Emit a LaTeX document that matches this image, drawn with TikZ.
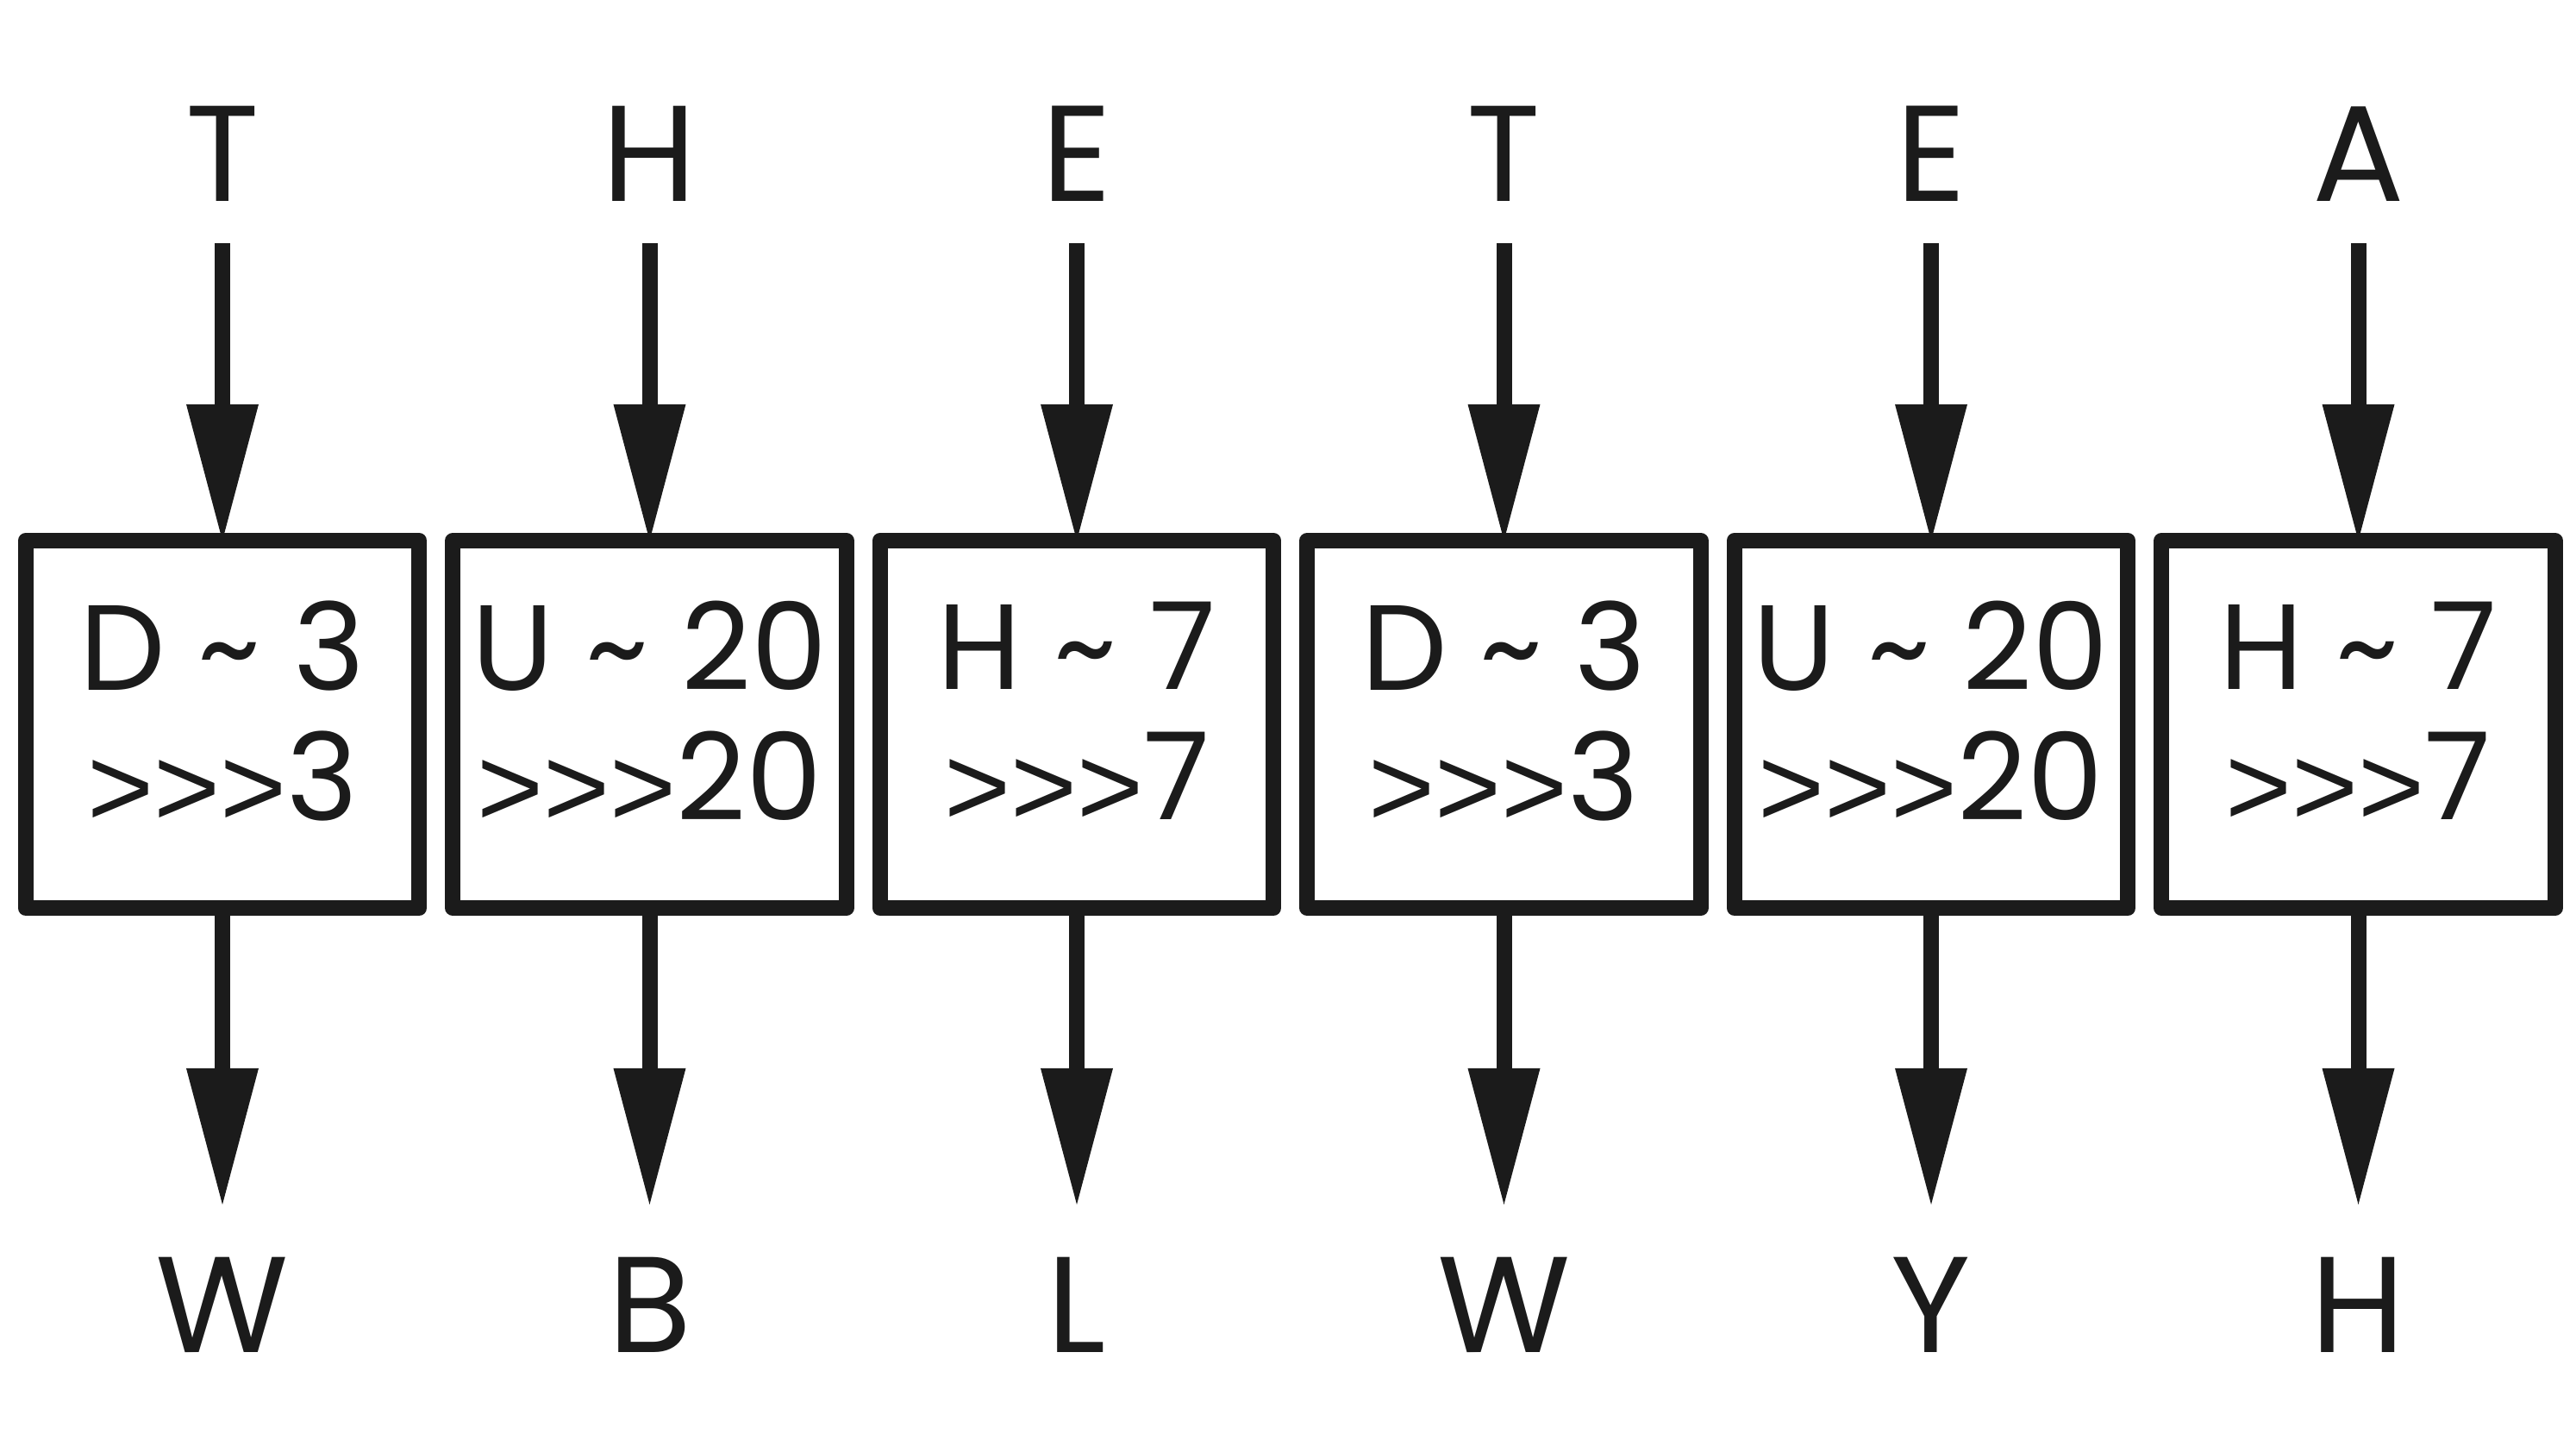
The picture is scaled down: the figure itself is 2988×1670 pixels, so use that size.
\documentclass[tikz,border=0pt]{standalone}
\usepackage{fontspec}
\setmainfont{Poppins}
\newfontfamily\gtfont{Liberation Sans}
\usetikzlibrary{arrows.meta}
\definecolor{ink}{HTML}{1B1B1B}
\newcommand\gts{\raisebox{-0.07cm}{\gtfont\fontsize{37.5}{40}\selectfont >\kern0pt>\kern0pt>}}
\begin{document}
\begin{tikzpicture}[x=0.01cm,y=-0.01cm,
  boxshape/.style={draw=ink, line width=0.18cm, line join=round, outer sep=0pt,
    minimum width=4.56cm, minimum height=4.26cm, inner sep=0pt},
  boxtext/.style={text=ink, align=center, inner sep=0pt,
    font=\fontsize{40}{42.9}\selectfont},
  letter/.style={text=ink, inner sep=0pt, text depth=0pt, anchor=base,
    font=\fontsize{45}{50}\selectfont},
  arr/.style={draw=ink, line width=0.18cm,
    -{Triangle[length=1.58cm, width=0.84cm, line width=0pt]}}
]
\useasboundingbox (0,0) rectangle (2988,1670);
\foreach \i/\x/\a/\b/\n/\o in {1/258/T/D/3/W, 2/753.5/H/U/20/B, 3/1249/E/H/7/L,
  4/1744.5/T/D/3/W, 5/2240/E/U/20/Y, 6/2735.5/A/H/7/H} {
  \node[letter] (in\i) at (\x,234) {\a};
  \node[boxshape] (box\i) at (\x,840) {};
  \node[boxtext] (txt\i) at (\x,827.5) {\b\ \textasciitilde\ \n\\\gts\n};
  \node[letter] (out\i) at (\x,1568) {\o};
  \draw[arr] ([yshift=-0.48cm]in\i.base) -- (box\i);
  \draw[arr] (box\i) -- ([yshift=1.71cm]out\i.base);
}
\end{tikzpicture}
\end{document}
